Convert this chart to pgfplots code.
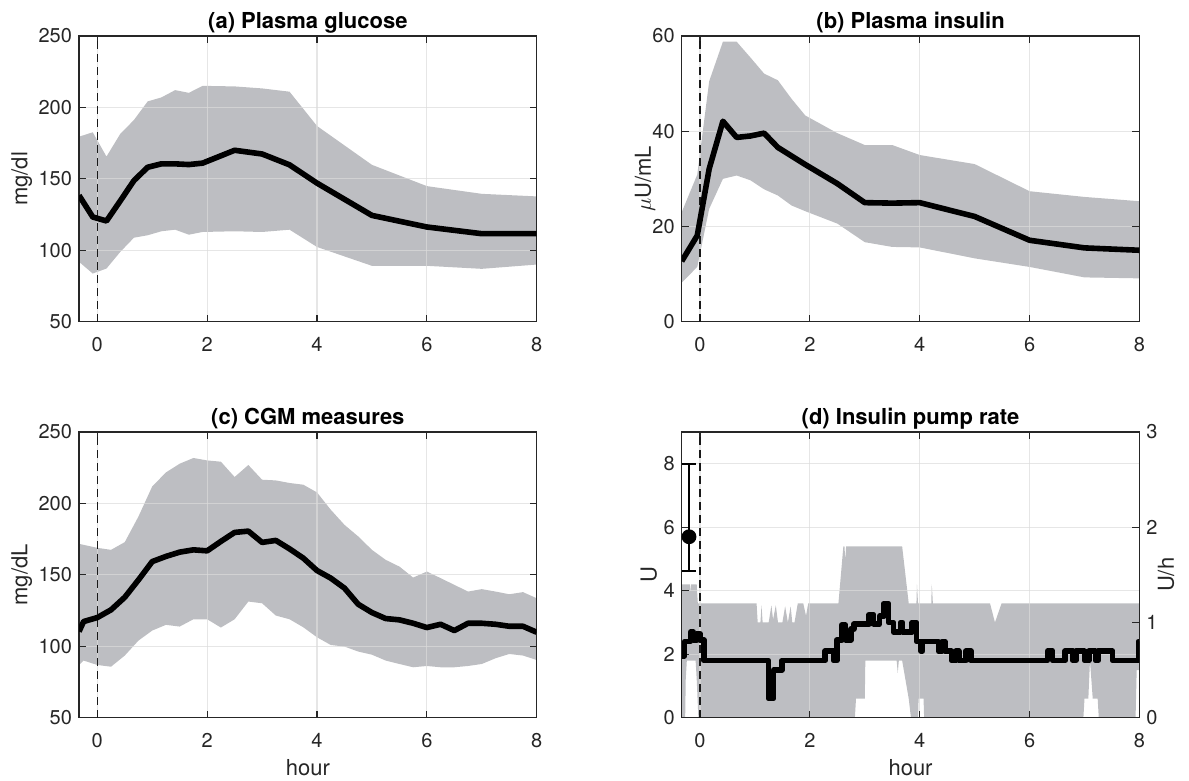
\documentclass[border=0pt]{standalone}
\usepackage{fontspec}
\setmainfont{TeX Gyre Heros}
\usepackage{pgfplots}
\pgfplotsset{compat=1.18}
\usepackage{pgfplotstable}
\usepgfplotslibrary{fillbetween}
\definecolor{bandgray}{RGB}{189,190,194}
\definecolor{axisgray}{RGB}{38,38,38}

% (a) plasma glucose
\pgfplotstableread{
x mean upper lower
-0.333 138.4 179.5 91.9
-0.083 123.3 182.6 83.7
0.167 120.5 165.6 87.2
0.417 134.5 181.4 98.8
0.667 148.8 191.2 108.8
0.917 158.1 204.2 110.5
1.167 160.5 207.0 113.3
1.417 160.5 212.1 114.4
1.667 160.0 210.2 110.9
1.917 161.0 215.1 112.8
2.5 170.0 214.7 113.3
3.0 167.4 213.3 112.8
3.5 159.8 211.0 114.4
4.0 147.0 187.0 102.3
5.0 124.4 159.8 89.1
6.0 116.3 144.9 89.1
7.0 111.6 139.5 87.0
8.0 111.6 137.7 90.0
}\dataA

% (b) plasma insulin
\pgfplotstableread{
x mean upper lower
-0.333 12.7 23.0 8.2
-0.05 18.1 30.9 11.5
0.167 32.1 50.5 23.7
0.417 42.1 58.8 30.0
0.667 38.7 58.8 30.7
0.917 39.0 55.5 29.7
1.167 39.6 52.1 27.8
1.417 36.6 50.7 26.5
1.667 34.8 46.8 24.4
1.917 33.0 43.3 23.2
2.5 29.0 39.6 20.6
3.0 25.0 37.1 16.7
3.5 24.9 37.1 15.7
4.0 25.0 35.0 15.6
5.0 22.1 33.1 13.3
6.0 17.1 27.4 11.5
7.0 15.5 26.2 9.3
8.0 15.0 25.3 9.1
}\dataB

% (c) CGM measures
\pgfplotstableread{
x mean upper lower
-0.333 110.3 171.7 86.9
-0.25 117.3 171.0 90.0
0 120.1 168.9 86.9
0.25 125.5 167.5 85.7
0.5 134.3 172.9 93.5
0.75 146.5 190.9 104.0
1.0 159.3 211.9 111.0
1.25 162.9 221.7 115.0
1.5 165.9 227.8 113.8
1.75 167.5 231.8 118.9
2.0 166.8 230.1 118.9
2.25 173.4 229.2 113.1
2.5 179.7 218.5 118.9
2.75 180.6 226.9 131.3
3.0 172.7 216.6 130.1
3.25 174.1 216.1 121.5
3.5 168.2 214.3 118.9
3.75 161.7 213.1 113.3
4.0 153.0 207.7 106.3
4.25 147.7 195.6 100.9
4.5 140.7 185.0 99.8
4.75 129.4 176.9 96.3
5.0 123.6 167.5 94.1
5.25 119.4 160.5 90.0
5.5 118.5 155.8 87.6
5.75 116.1 148.1 85.3
6.0 113.1 152.3 86.2
6.25 115.4 147.7 85.3
6.5 111.0 143.0 85.3
6.75 116.1 138.3 86.2
7.0 116.1 140.0 87.6
7.25 115.4 138.3 91.6
7.5 114.0 136.4 94.6
7.75 114.0 137.9 93.5
8.0 109.8 133.6 90.4
}\dataC

% (d) insulin pump rate, U/h
\pgfplotstableread{
x rate
-0.333 0.65
-0.28 0.8
-0.17 0.9
-0.12 0.817
-0.06 0.883
0.0 0.817
0.07 0.6
1.25 0.2
1.34 0.5
1.49 0.6
2.28 0.7
2.43 0.6
2.49 0.817
2.58 0.973
2.65 0.817
2.75 0.933
2.80 0.983
3.08 1.083
3.16 0.983
3.27 1.067
3.35 1.2
3.43 1.0
3.52 0.9
3.65 1.0
3.69 0.9
3.86 1.0
3.94 0.8
4.02 0.7
4.05 0.8
4.34 0.7
4.41 0.8
4.46 0.7
4.58 0.6
4.66 0.7
4.71 0.6
4.84 0.7
4.93 0.6
6.33 0.7
6.42 0.6
6.65 0.7
6.79 0.6
6.84 0.7
7.0 0.6
7.08 0.7
7.2 0.6
7.25 0.7
7.51 0.6
7.98 0.8
8.0 0.8
}\dataDmean

\pgfplotstableread{
x upper
-0.333 1.4
-0.18 1.4
-0.17 1.3
-0.16 1.4
-0.06 1.4
-0.04 1.2
1.03 1.2
1.05 1.0
1.10 1.0
1.12 1.18
1.14 1.0
1.25 1.0
1.30 1.18
1.33 1.03
1.38 1.18
1.42 1.0
1.50 1.0
1.55 1.17
1.60 1.0
1.65 1.17
1.68 1.0
1.72 1.0
1.78 1.2
1.88 1.2
1.93 1.07
1.97 1.2
2.52 1.2
2.61 1.8
2.63 1.8
2.645 1.65
2.66 1.8
3.68 1.8
3.72 1.6
3.76 1.4
3.80 1.2
3.94 1.2
3.95 1.4
3.97 1.2
4.21 1.2
4.22 1.4
4.24 1.2
5.28 1.2
5.37 1.0
5.49 1.2
8.0 1.2
}\dataDup

\pgfplotstableread{
x lower
-0.333 0
-0.27 0
-0.26 0.4
-0.24 0.6
-0.08 0.6
-0.06 0.4
-0.03 0
2.82 0
2.84 0.2
3.0 0.2
3.01 0.6
3.58 0.6
3.60 0.47
3.62 0.6
3.68 0.6
3.74 0.4
3.80 0.2
3.84 0
3.97 0
3.98 0.2
4.07 0.2
4.08 0
6.98 0
7.0 0.2
7.07 0.2
7.1 0.6
7.15 0.2
7.24 0.2
7.26 0
7.93 0
7.95 0.5
8.0 0.5
}\dataDlow

\pgfplotsset{
  base/.style={scale only axis, width=228.85pt, height=142.85pt,
    xmin=-0.3333, xmax=8, anchor=south west},
  bandax/.style={base, hide axis},
  panel/.style={base,
    xtick={0,2,4,6,8},
    axis line style={color=axisgray, line width=0.6pt},
    tick style={color=axisgray, line width=0.6pt},
    major tick length=3.5pt,
    tick label style={font=\fontsize{10}{12}\selectfont, color=axisgray},
    xticklabel style={yshift=-4.5pt},
    label style={font=\fontsize{11}{13}\selectfont, color=axisgray},
    xlabel style={yshift=1.5pt},
    title style={font=\bfseries\fontsize{11}{13}\selectfont, yshift=-8pt},
    /pgf/number format/assume math mode=true,
    grid=major, grid style={color=black!14, opacity=0.7, line width=0.6pt},
  },
  ylab/.style={ylabel style={at={(axis description cs:#1,0.5)}, anchor=center}},
  meanline/.style={black, line width=2.8pt, line join=round},
  zeroline/.style={black!90, line width=0.7pt, dash pattern=on 4pt off 2.5pt},
}

\begin{document}
\begin{tikzpicture}

% ---------- (a)
\begin{axis}[bandax, at={(39.5pt,229.65pt)}, ymin=50, ymax=250]
\addplot[name path=aU, draw=none] table[x=x,y=upper]{\dataA};
\addplot[name path=aL, draw=none] table[x=x,y=lower]{\dataA};
\addplot[fill=bandgray, draw=none] fill between[of=aU and aL];
\end{axis}
\begin{axis}[panel, at={(39.5pt,229.65pt)}, ymin=50, ymax=250,
  ytick={50,100,150,200,250}, title={(a) Plasma glucose}, ylabel={mg/dl}, ylab=-0.125]
\addplot[zeroline] coordinates {(0,50) (0,250)};
\addplot[meanline] table[x=x,y=mean]{\dataA};
\end{axis}

% ---------- (b)
\begin{axis}[bandax, at={(340.85pt,229.65pt)}, ymin=0, ymax=60]
\addplot[name path=bU, draw=none] table[x=x,y=upper]{\dataB};
\addplot[name path=bL, draw=none] table[x=x,y=lower]{\dataB};
\addplot[fill=bandgray, draw=none] fill between[of=bU and bL];
\end{axis}
\begin{axis}[panel, at={(340.85pt,229.65pt)}, ymin=0, ymax=60,
  ytick={0,20,40,60}, title={(b) Plasma insulin}, ylabel={$\mu$U/mL}, ylab=-0.08]
\addplot[zeroline] coordinates {(0,0) (0,60)};
\addplot[meanline] table[x=x,y=mean]{\dataB};
\end{axis}

% ---------- (c)
\begin{axis}[bandax, at={(39.5pt,31.65pt)}, ymin=50, ymax=250]
\addplot[name path=cU, draw=none] table[x=x,y=upper]{\dataC};
\addplot[name path=cL, draw=none] table[x=x,y=lower]{\dataC};
\addplot[fill=bandgray, draw=none] fill between[of=cU and cL];
\end{axis}
\begin{axis}[panel, at={(39.5pt,31.65pt)}, ymin=50, ymax=250,
  ytick={50,100,150,200,250}, title={(c) CGM measures}, ylabel={mg/dL}, ylab=-0.125, xlabel={hour}]
\addplot[zeroline] coordinates {(0,50) (0,250)};
\addplot[meanline] table[x=x,y=mean]{\dataC};
\end{axis}

% ---------- (d)
\begin{axis}[bandax, at={(340.85pt,31.65pt)}, ymin=0, ymax=3]
\addplot[name path=dU, draw=none] table[x=x,y=upper]{\dataDup};
\addplot[name path=dL, draw=none] table[x=x,y=lower]{\dataDlow};
\addplot[fill=bandgray, draw=none] fill between[of=dU and dL];
\end{axis}
\begin{axis}[panel, at={(340.85pt,31.65pt)}, ymin=0, ymax=9,
  ytick={0,2,4,6,8}, ytick pos=left, title={(d) Insulin pump rate}, ylabel={U}, ylab=-0.072, xlabel={hour}]
\addplot[zeroline] coordinates {(0,0) (0,9)};
\addplot[black, line width=1pt, mark=*, mark size=3.2pt, mark options={fill=black},
  error bars/.cd, y dir=both, y explicit,
  error bar style={line width=1pt},
  error mark options={rotate=90, mark size=3.5pt, line width=1pt}]
  coordinates {(-0.2,5.7) += (0,2.3) -= (0,1.07)};
\end{axis}
\begin{axis}[base, at={(340.85pt,31.65pt)}, ymin=0, ymax=3,
  axis y line*=right, axis x line=none, ytick={0,1,2,3},
  axis line style={color=axisgray, line width=0.6pt},
  tick style={color=axisgray, line width=0.6pt},
  major tick length=3.5pt,
  tick label style={font=\fontsize{10}{12}\selectfont, color=axisgray},
  label style={font=\fontsize{11}{13}\selectfont, color=axisgray},
  /pgf/number format/assume math mode=true,
  ylabel={U/h}, ylab=1.058]
\addplot[meanline, const plot] table[x=x,y=rate]{\dataDmean};
\end{axis}

\pgfresetboundingbox
\path[use as bounding box] (0,0) rectangle (594.5pt,390.5pt);
\end{tikzpicture}
\end{document}
